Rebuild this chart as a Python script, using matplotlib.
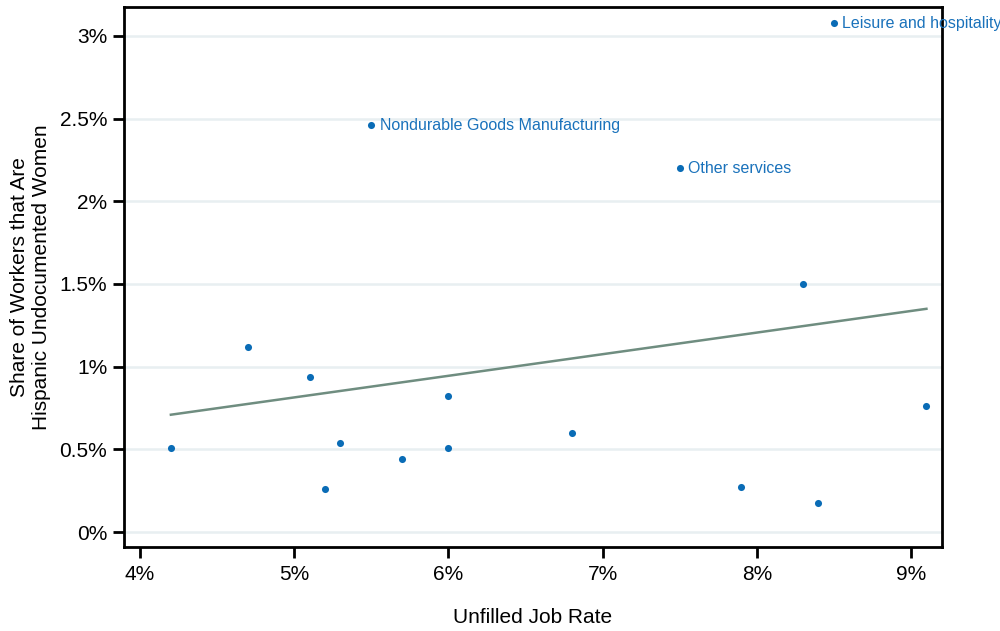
import numpy as np
import matplotlib.pyplot as plt
from matplotlib.ticker import FuncFormatter

plt.rcParams['font.family'] = ['Liberation Sans', 'DejaVu Sans']

# Unfilled job rate (%) vs share of workers that are Hispanic undocumented women (%)
job_rate = [4.2, 4.7, 5.1, 5.2, 5.3, 5.5, 5.7, 6.0, 6.0, 6.8, 7.5, 7.9, 8.3, 8.4, 8.5, 9.1]
share = [0.51, 1.12, 0.94, 0.26, 0.54, 2.46, 0.44, 0.82, 0.51, 0.60, 2.20, 0.27, 1.50, 0.175, 3.075, 0.765]
labels = ['', '', '', '', '', 'Nondurable Goods Manufacturing', '', '', '', '',
          'Other services', '', '', '', 'Leisure and hospitality', '']

x = np.array(job_rate)
y = np.array(share)
slope, intercept = np.polyfit(x, y, 1)

fig = plt.figure(figsize=(10, 6.31), dpi=100)
ax = fig.add_axes([0.124, 0.133, 0.818, 0.856])

ax.set_xlim(3.896, 9.201)
ax.set_ylim(-0.091, 3.175)

ax.set_yticks([0, 0.5, 1, 1.5, 2, 2.5, 3])
ax.set_xticks([4, 5, 6, 7, 8, 9])
fmt = FuncFormatter(lambda v, p: f'{v:g}%')
ax.xaxis.set_major_formatter(fmt)
ax.yaxis.set_major_formatter(fmt)
ax.grid(axis='y', color='#e8eff1', linewidth=1.8, zorder=0)
ax.set_axisbelow(True)

xs = np.array([x.min(), x.max()])
ax.plot(xs, intercept + slope * xs, color='#6f8d80', linewidth=1.8, zorder=2)
ax.scatter(x, y, s=26, color='#0a6cb6', zorder=3, linewidths=0)

for xi, yi, lab in zip(x, y, labels):
    if lab:
        ax.annotate(lab, (xi, yi), xytext=(6, 0), textcoords='offset points',
                    va='center', ha='left', fontsize=11.5, color='#1a72bb',
                    annotation_clip=False, clip_on=False, zorder=4)

for s in ax.spines.values():
    s.set_linewidth(2)
    s.set_color('black')
ax.tick_params(axis='both', length=8, width=2, labelsize=15, color='black')
ax.tick_params(axis='x', pad=5)
ax.tick_params(axis='y', pad=4)

ax.set_xlabel('Unfilled Job Rate', fontsize=15, labelpad=17)
ax.set_ylabel('Share of Workers that Are\nHispanic Undocumented Women', fontsize=15, labelpad=6)

fig.savefig('out.png', dpi=100)
